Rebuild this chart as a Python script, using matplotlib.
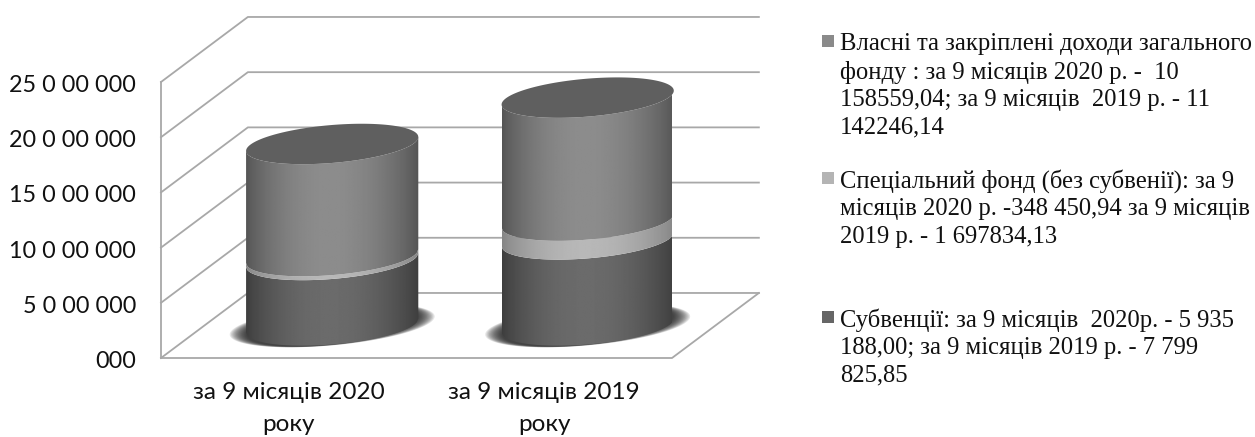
import numpy as np
import matplotlib
matplotlib.use('Agg')
import matplotlib.pyplot as plt
from matplotlib.patches import Polygon, Rectangle
from matplotlib.transforms import ScaledTranslation

# Data
categories = ['за 9 місяців 2020\nроку', 'за 9 місяців 2019\nроку']
subvention = [5935188.00, 7799825.85]
special_fund = [348450.94, 1697834.13]
own_income = [10158559.04, 11142246.14]
y_ticks = [0, 5000000, 10000000, 15000000, 20000000, 25000000]
y_labels = ['000', '5 0 00 000', '10 0 00 000', '15 0 00 000', '20 0 00 000', '25 0 00 000']
legend_labels = [
    'Власні та закріплені доходи загального\nфонду : за 9 місяців 2020 р. -  10\n158559,04; за 9 місяців  2019 р. - 11\n142246,14',
    'Спеціальний фонд (без субвенії): за 9\nмісяців 2020 р. -348 450,94 за 9 місяців\n2019 р. - 1 697834,13',
    'Субвенції: за 9 місяців  2020р. - 5 935\n188,00; за 9 місяців 2019 р. - 7 799\n825,85',
]

W, H = 1255, 437
GRID = '#a8a8a8'

# 3D look
DEPTH_X = 0.34       # category units
DEPTH_Y = 5.89e6     # value units
RADIUS = 0.337
ELL_B = 1.72e6
SHEAR = 0.63e6

fig = plt.figure(figsize=(W / 100, H / 100), dpi=100)
ax = fig.add_axes([161 / W, 1 - 358 / H, 511 / W, 276 / H])
ax.set_xlim(-0.5, 1.5)
ax.set_ylim(0, 25000000)
for s in ax.spines.values():
    s.set_visible(False)
ax.patch.set_visible(False)

# Walls and floor
x0, x1 = -0.5, 1.5
for v in y_ticks:
    ax.plot([x0, x0 + DEPTH_X, x1 + DEPTH_X], [v, v + DEPTH_Y, v + DEPTH_Y],
            color=GRID, lw=1.3, clip_on=False, zorder=1)
ax.plot([x0, x0], [0, 25000000], color=GRID, lw=1.3, clip_on=False, zorder=1)
ax.plot([x0, x1, x1 + DEPTH_X], [0, 0, DEPTH_Y], color=GRID, lw=1.3, clip_on=False, zorder=1)

u = np.linspace(-1, 1, 121)
th = np.linspace(0, 2 * np.pi, 200)


def arc(cx, base):
    # front half of the tilted ellipse
    return cx + RADIUS * u, base + SHEAR * u - ELL_B * np.sqrt(1 - u ** 2)


def segment(cx, lo, hi, edge, mid, z):
    xa, ya = arc(cx, lo)
    xb, yb = arc(cx, hi)
    pts = np.column_stack([np.r_[xa, xb[::-1]], np.r_[ya, yb[::-1]]])
    clip = Polygon(pts, closed=True, transform=ax.transData, fc='none', ec='none')
    ax.add_patch(clip)
    t = np.linspace(0, 1, 200)
    shade = edge + (mid - edge) * np.sin(np.pi * t ** 0.95) ** 0.8
    im = ax.imshow(shade[None, :], cmap='gray', vmin=0, vmax=1, aspect='auto',
                   extent=(cx - RADIUS, cx + RADIUS, lo - 3e6, hi + 3e6),
                   interpolation='bilinear', zorder=z)
    im.set_clip_path(clip)


for i in range(len(categories)):
    cx = i + DEPTH_X / 2
    base = DEPTH_Y / 2
    # soft shadow on the floor
    for k in np.linspace(1.19, 1.0, 14):
        sx = cx + RADIUS * k * np.cos(th)
        sy = base + SHEAR * 1.3 * np.cos(th) + ELL_B * (1 + (k - 1) * 0.25) * np.sin(th)
        ax.add_patch(Polygon(np.column_stack([sx, sy]), closed=True, fc='#1a1a1a',
                             ec='none', alpha=0.11, zorder=2, clip_on=False))
    b1 = base + subvention[i]
    b2 = b1 + special_fund[i]
    b3 = b2 + own_income[i]
    segment(cx, base, b1, 0.24, 0.42, 3)
    segment(cx, b1, b2, 0.52, 0.72, 4)
    segment(cx, b2, b3, 0.33, 0.55, 5)
    # top cap
    cap_x = cx + RADIUS * np.cos(th)
    cap_y = b3 + SHEAR * np.cos(th) + ELL_B * np.sin(th)
    ax.add_patch(Polygon(np.column_stack([cap_x, cap_y]), closed=True, fc='#5f5f5f',
                         ec='none', zorder=6, clip_on=False))

ax.set_xlim(-0.5, 1.5)
ax.set_ylim(0, 25000000)
ax.set_yticks(y_ticks)
ax.set_yticklabels(y_labels, family='Lato', fontsize=16.8, color='#111111')
ax.set_xticks(range(len(categories)))
ax.set_xticklabels(categories, family='Lato', fontsize=17.5, color='#111111', linespacing=1.65)
ax.tick_params(axis='y', length=0, pad=18)
ax.tick_params(axis='x', length=0, pad=17)
for lab in ax.get_yticklabels():
    lab.set_transform(lab.get_transform() + ScaledTranslation(0, -1.5 / 100, fig.dpi_scale_trans))

# Legend, placed by hand because the gaps are uneven
swatches = ['#8a8a8a', '#b4b4b4', '#666666']
swatch_top = [35, 172, 311]
text_top = [33, 169, 308]
for label, col, st, tt in zip(legend_labels, swatches, swatch_top, text_top):
    fig.add_artist(Rectangle((822 / W, 1 - (st + 12) / H), 12 / W, 12 / H, fc=col, ec='none',
                             transform=fig.transFigure))
    fig.text(840 / W, 1 - tt / H, label, family='Liberation Serif', fontsize=17.7,
             color='#111111', va='top', ha='left', linespacing=1.32)

fig.savefig('out.png', dpi=100)
